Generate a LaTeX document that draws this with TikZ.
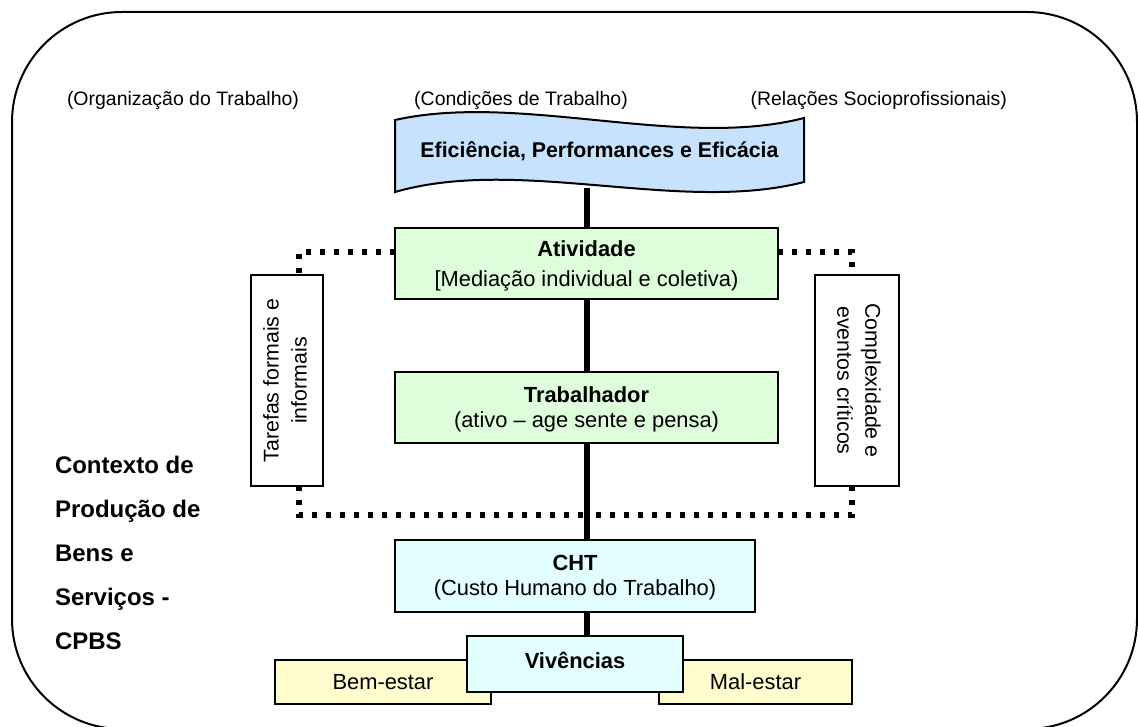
\documentclass[tikz,border=0pt]{standalone}
\usepackage{fontspec}
\setmainfont{Liberation Sans}
\usetikzlibrary{backgrounds}
\definecolor{boxgreen}{RGB}{222,253,218}
\definecolor{boxcyan}{RGB}{227,254,255}
\definecolor{boxyellow}{RGB}{255,253,206}
\definecolor{bannerblue}{RGB}{198,226,252}
\begin{document}
\begin{tikzpicture}[x=0.75pt,y=-0.75pt,
  every node/.style={inner sep=0pt, outer sep=0pt},
  boxfont/.style={font=\fontsize{16.4}{19}\selectfont},
  flowbox/.style={draw, line width=1.6pt, align=center, boxfont},
  sidebox/.style={draw, line width=1.3pt, minimum height=158.25pt, font=\fontsize{16}{21}\selectfont},
  toplabel/.style={font=\fontsize{14.6}{18}\selectfont},
  spine/.style={line width=4.5pt},
  dotlink/.style={line width=4pt, dash pattern=on 4pt off 6.5pt}
]
\useasboundingbox (0,0) rectangle (1138,727);

% outer frame
\draw[line width=1.5pt, rounded corners=82.5pt] (12,12) rectangle (1137,729);

% the three dimensions of the context
\node[toplabel, anchor=west] (org) at (67,101) {(Organização do Trabalho)};
\node[toplabel] (cond) at (521,101) {(Condições de Trabalho)};
\node[toplabel, anchor=east] (rel) at (1007,101) {(Relações Socioprofissionais)};

% wavy banner
\draw[line width=1.5pt, fill=bannerblue]
  (395,120) .. controls (520,92) and (680,150) .. (804,118)
  -- (804,182) .. controls (680,214) and (520,156) .. (395,192) -- cycle;
\node[font=\bfseries\fontsize{16}{20}\selectfont] (eff) at (599.5,151) {Eficiência, Performances e Eficácia};
\coordinate (effbase) at (587,188);

% central chain
\node[flowbox, fill=boxgreen, minimum width=287.25pt, minimum height=53.25pt,
      font=\fontsize{16.4}{22.5}\selectfont, text depth=-1pt] (ativ) at (586.5,263.5)
  {\textbf{Atividade}\\{}[Mediação individual e coletiva)};
\node[flowbox, fill=boxgreen, minimum width=287.25pt, minimum height=53.25pt, text depth=1pt] (trab) at (586.5,407.5)
  {\textbf{Trabalhador}\\(ativo – age sente e pensa)};
\node[flowbox, fill=boxcyan, minimum width=270pt, minimum height=54pt, text depth=1pt] (cht) at (575,576)
  {\textbf{CHT}\\(Custo Humano do Trabalho)};
\node[flowbox, fill=boxyellow, minimum width=162pt, minimum height=33pt] (bem) at (383,682) {Bem-estar};
\node[flowbox, fill=boxyellow, minimum width=144.75pt, minimum height=33pt] (mal) at (755.5,682) {Mal-estar};
\node[flowbox, fill=boxcyan, minimum width=162pt, minimum height=42pt, text depth=6pt] (viv) at (575,664) {\textbf{Vivências}};

% side boxes
\node[sidebox, minimum width=54pt] (taref) at (287,380.5)
  {\rotatebox{90}{\begin{tabular}{@{}c@{}}Tarefas formais e\\informais\end{tabular}}};
\node[sidebox, minimum width=63pt] (compl) at (857,380.5)
  {\rotatebox{-90}{\begin{tabular}{@{}c@{}}Complexidade e\\eventos críticos\end{tabular}}};

% left caption
\node[anchor=north west, align=left, font=\bfseries\fontsize{18}{33}\selectfont] (cpbs) at (55,456)
  {Contexto de\\Produção de\\Bens e\\Serviços -\\CPBS};

% connectors
\coordinate (ltop) at (299,252);
\coordinate (lbot) at (299,515);
\coordinate (rtop) at (852,252);
\coordinate (rbot) at (852,515);
\begin{scope}[on background layer]
  \draw[spine] (effbase) -- (effbase |- viv.north);
  \draw[dotlink] (ativ.west |- ltop) -- (ltop) -- (ltop |- taref.north);
  \draw[dotlink] (ltop |- taref.south) -- (lbot) -- (effbase |- lbot);
  \draw[dotlink] (ativ.east |- rtop) -- (rtop) -- (rtop |- compl.north);
  \draw[dotlink] (rtop |- compl.south) -- (rbot) -- (effbase |- rbot);
\end{scope}
\end{tikzpicture}
\end{document}
